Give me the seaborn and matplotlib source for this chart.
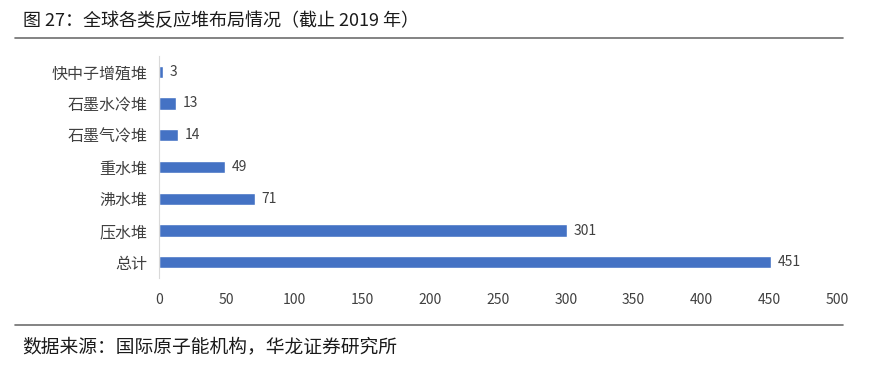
import matplotlib
matplotlib.use('Agg')
import matplotlib.pyplot as plt
import seaborn as sns
import pandas as pd
from matplotlib.lines import Line2D

# data
reactors = ['快中子增殖堆', '石墨水冷堆', '石墨气冷堆', '重水堆', '沸水堆', '压水堆', '总计']
counts = [3, 13, 14, 49, 71, 301, 451]
x_ticks = [0, 50, 100, 150, 200, 250, 300, 350, 400, 450, 500]

df = pd.DataFrame({'type': reactors, 'count': counts})

sns.set_style('white')
plt.rcParams['font.family'] = ['Noto Sans CJK SC', 'DejaVu Sans']

fig = plt.figure(figsize=(8.82, 3.8), dpi=100)
ax = fig.add_axes([0.180, 0.268, 0.769, 0.585])

sns.barplot(data=df, y='type', x='count', order=reactors, orient='h',
            color='#4472C4', saturation=1, width=0.38, ax=ax)

for i, v in enumerate(counts):
    ax.text(v + 5, i, str(v), va='center', ha='left', fontsize=10, color='#404040')

ax.set_xlim(0, 500)
ax.set_xticks(x_ticks)
ax.set_xticklabels([str(t) for t in x_ticks], fontsize=10, color='#404040')
ax.tick_params(axis='y', labelsize=11.5, labelcolor='#404040', length=0, pad=8)
ax.tick_params(axis='x', length=0, pad=11)
ax.set_xlabel('')
ax.set_ylabel('')
for s in ['top', 'right', 'bottom']:
    ax.spines[s].set_visible(False)
ax.spines['left'].set_color('#d9d9d9')
ax.spines['left'].set_linewidth(0.8)

# title, rules and source
fig.text(0.026, 0.945, '图 27：全球各类反应堆布局情况（截止 2019 年）', fontsize=13,
         color='#1a1a1a', va='center', ha='left', fontweight='medium')
fig.add_artist(Line2D([0.017, 0.956], [0.900, 0.900], color='#6e6e6e', lw=1.2))
fig.add_artist(Line2D([0.017, 0.956], [0.145, 0.145], color='#6e6e6e', lw=1.2))
fig.text(0.025, 0.087, '数据来源：国际原子能机构，华龙证券研究所', fontsize=13.5,
         color='#1a1a1a', va='center', ha='left')

fig.savefig('out.png', dpi=100)
